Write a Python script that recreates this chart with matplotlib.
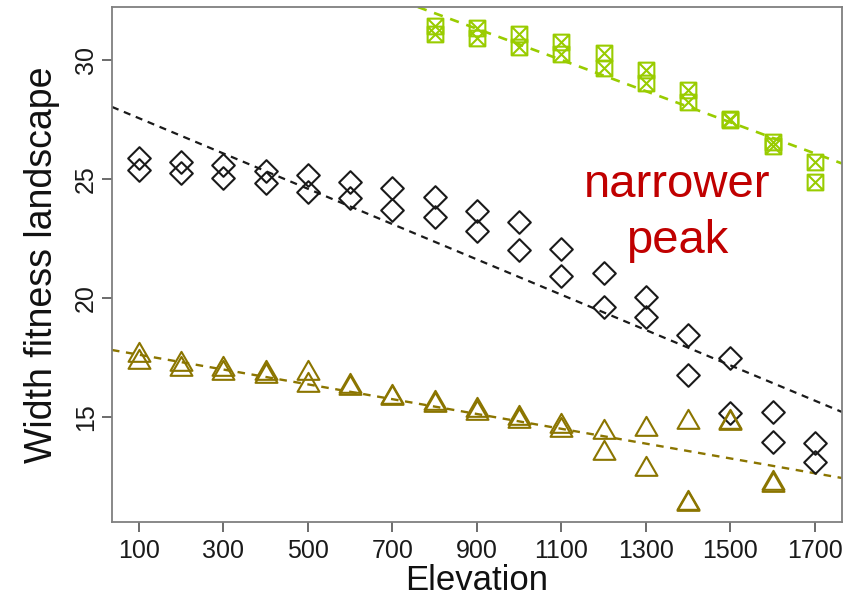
import matplotlib
matplotlib.use("Agg")
import matplotlib.pyplot as plt
from matplotlib.path import Path
import numpy as np

# ---------------- data ----------------
elev_ticks = [100, 300, 500, 700, 900, 1100, 1300, 1500, 1700]
y_ticks = [15, 20, 25, 30]

# black diamonds (two per elevation)
dia_elev = [100, 100, 200, 200, 300, 300, 400, 400, 500, 500, 600, 600,
            700, 700, 800, 800, 900, 900, 1000, 1000, 1100, 1100, 1200, 1200,
            1300, 1300, 1400, 1400, 1500, 1500, 1600, 1600, 1700, 1700]
dia_val = [25.88, 25.38, 25.71, 25.25, 25.59, 25.04, 25.34, 24.83, 25.17, 24.45,
           24.87, 24.20, 24.62, 23.70, 24.24, 23.40, 23.66, 22.82, 23.19, 22.02,
           22.06, 20.92, 21.05, 19.62, 20.04, 19.20, 18.45, 16.76, 17.48, 15.17,
           15.21, 13.95, 13.91, 13.11]

# green boxed crosses
sq_elev = [800, 800, 900, 900, 1000, 1000, 1100, 1100, 1200, 1200,
           1300, 1300, 1400, 1400, 1500, 1500, 1600, 1600, 1700, 1700]
sq_val = [31.43, 31.09, 31.34, 30.92, 31.09, 30.55, 30.76, 30.25, 30.29, 29.66,
          29.58, 29.03, 28.74, 28.24, 27.52, 27.48, 26.55, 26.39, 25.71, 24.87]

# olive triangles
tri_elev = [100, 100, 200, 200, 300, 300, 400, 400, 500, 500, 600, 600,
            700, 700, 800, 800, 900, 900, 1000, 1000, 1100, 1100, 1200, 1200,
            1300, 1300, 1400, 1400, 1400, 1500, 1500, 1600, 1600]
tri_val = [17.59, 17.30, 17.21, 17.04, 17.04, 16.83, 16.83, 16.71, 16.83, 16.33,
           16.29, 16.20, 15.84, 15.78, 15.61, 15.51, 15.28, 15.15, 14.94, 14.82,
           14.61, 14.44, 14.36, 13.47, 14.48, 12.80, 14.78, 11.38, 11.33,
           14.81, 14.74, 12.21, 12.14]

# fitted trend lines: (intercept at elevation 0, slope per m)
black_fit = (28.30, -0.007419)
green_fit = (37.21, -0.00655)
tri_fit = (17.93, -0.003113)

# ---------------- style ----------------
c_black = "#1a1a1a"
c_green = "#99CC00"
c_olive = "#8B7500"
c_red = "#C00000"

# R-style marker paths
diamond = Path([(-1, 0), (0, 1), (1, 0), (0, -1), (-1, 0)],
               [Path.MOVETO, Path.LINETO, Path.LINETO, Path.LINETO, Path.CLOSEPOLY])
tri = Path([(0, 1.5551), (1.3468, -0.7776), (-1.3468, -0.7776), (0, 1.5551)],
           [Path.MOVETO, Path.LINETO, Path.LINETO, Path.CLOSEPOLY])
boxx = Path([(-1, -1), (1, -1), (1, 1), (-1, 1), (-1, -1),
             (-1, -1), (1, 1), (-1, 1), (1, -1)],
            [Path.MOVETO, Path.LINETO, Path.LINETO, Path.LINETO, Path.CLOSEPOLY,
             Path.MOVETO, Path.LINETO, Path.MOVETO, Path.LINETO])

plt.rcParams['font.family'] = ['Liberation Sans', 'DejaVu Sans']

fig = plt.figure(figsize=(8.56, 6.05), dpi=100)
ax = fig.add_axes([0.1308, 0.1372, 0.8528, 0.8512])

ax.set_xlim(36, 1764)
ax.set_ylim(10.59, 32.23)

# trend lines
ax.axline((0, black_fit[0]), slope=black_fit[1], color=c_black, lw=1.6,
          dashes=(3.2, 2.6), zorder=1)
ax.axline((0, green_fit[0]), slope=green_fit[1], color=c_green, lw=1.9,
          dashes=(3.5, 3.0), zorder=1)
ax.axline((0, tri_fit[0]), slope=tri_fit[1], color=c_olive, lw=1.7,
          dashes=(3.2, 2.8), zorder=1)

# points
ax.plot(dia_elev, dia_val, linestyle='none', marker=diamond, ms=16.3,
        mfc='none', mec=c_black, mew=1.5, zorder=3)
ax.plot(sq_elev, sq_val, linestyle='none', marker=boxx, ms=11.3,
        mfc='none', mec=c_green, mew=1.5, zorder=3)
ax.plot(tri_elev, tri_val, linestyle='none', marker=tri, ms=18.2,
        mfc='none', mec=c_olive, mew=1.5, zorder=3)

# annotation
ax.text(1373, 24.24, "narrower", color=c_red, fontsize=34, ha='center', va='baseline')
ax.text(1373, 21.89, "peak", color=c_red, fontsize=34, ha='center', va='baseline')

# axes styling
for s in ax.spines.values():
    s.set_color('#7f7f7f')
    s.set_linewidth(1.3)

ax.set_xticks(elev_ticks)
ax.set_xticklabels([str(t) for t in elev_ticks],
                   fontfamily=['Liberation Sans Narrow', 'Liberation Sans'], fontsize=18)
ax.set_yticks(y_ticks)
ax.set_yticklabels([str(t) for t in y_ticks], rotation=90, va='center',
                   fontfamily=['Liberation Sans Narrow', 'Liberation Sans'], fontsize=18)
ax.tick_params(axis='both', direction='out', length=7, width=1.1, color='#444444',
               labelcolor='#1a1a1a')
ax.tick_params(axis='x', pad=5)
ax.tick_params(axis='y', pad=3)

ax.set_xlabel("Elevation", fontsize=25, color='#111111', labelpad=1)
ax.set_ylabel("Width fitness landscape", fontsize=27, color='#111111', labelpad=10)

fig.savefig("out.png", dpi=100)
